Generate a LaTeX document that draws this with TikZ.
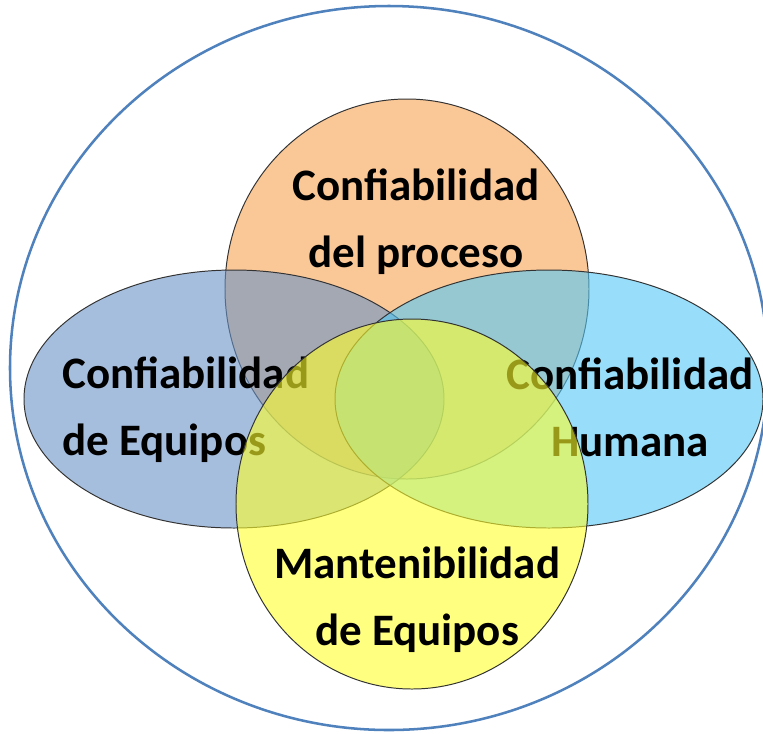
\documentclass[tikz,border=0pt]{standalone}
\usepackage{fontspec}
\setmainfont{Carlito}
\definecolor{procfill}{RGB}{247,162,80}
\definecolor{eqfill}{RGB}{107,147,200}
\definecolor{humfill}{RGB}{83,200,247}
\definecolor{mantfill}{RGB}{255,255,43}
\definecolor{ringblue}{RGB}{79,129,189}

\begin{document}
\begin{tikzpicture}[x=0.025cm, y=-0.025cm,
ring/.style={ringblue, line width=1.8pt},
blob/.style={draw=black!80, line width=0.7pt, fill opacity=0.6, draw opacity=1},
caption/.style={font=\fontsize{32}{47}\selectfont\bfseries, inner sep=0pt, anchor=base}]

\useasboundingbox (0,0) rectangle (763,733);

% OUTER RING
\draw[ring] (389,368) ellipse [x radius=379, y radius=362];

% process (top)
\draw[blob, fill=procfill] (407,289) ellipse [x radius=182, y radius=190];
\node[caption, align=center] (proc) at (416,267) {Confiabilidad\\del proceso};

% equipment (left)
\draw[blob, fill=eqfill] (234,399) ellipse [x radius=210, y radius=129];
\node[caption, align=left, anchor=base west] (equip) at (62,455) {Confiabilidad\\de Equipos};

% human (right)
\draw[blob, fill=humfill] (549,399) ellipse [x radius=214, y radius=129];
\node[caption, align=center] (human) at (630,456) {Confiabilidad\\Humana};

% maintainability (bottom)
\draw[blob, fill=mantfill] (412,504) ellipse [x radius=176, y radius=185];
\node[caption, align=center] (maint) at (417,645) {Mantenibilidad\\de Equipos};

\end{tikzpicture}
\end{document}
